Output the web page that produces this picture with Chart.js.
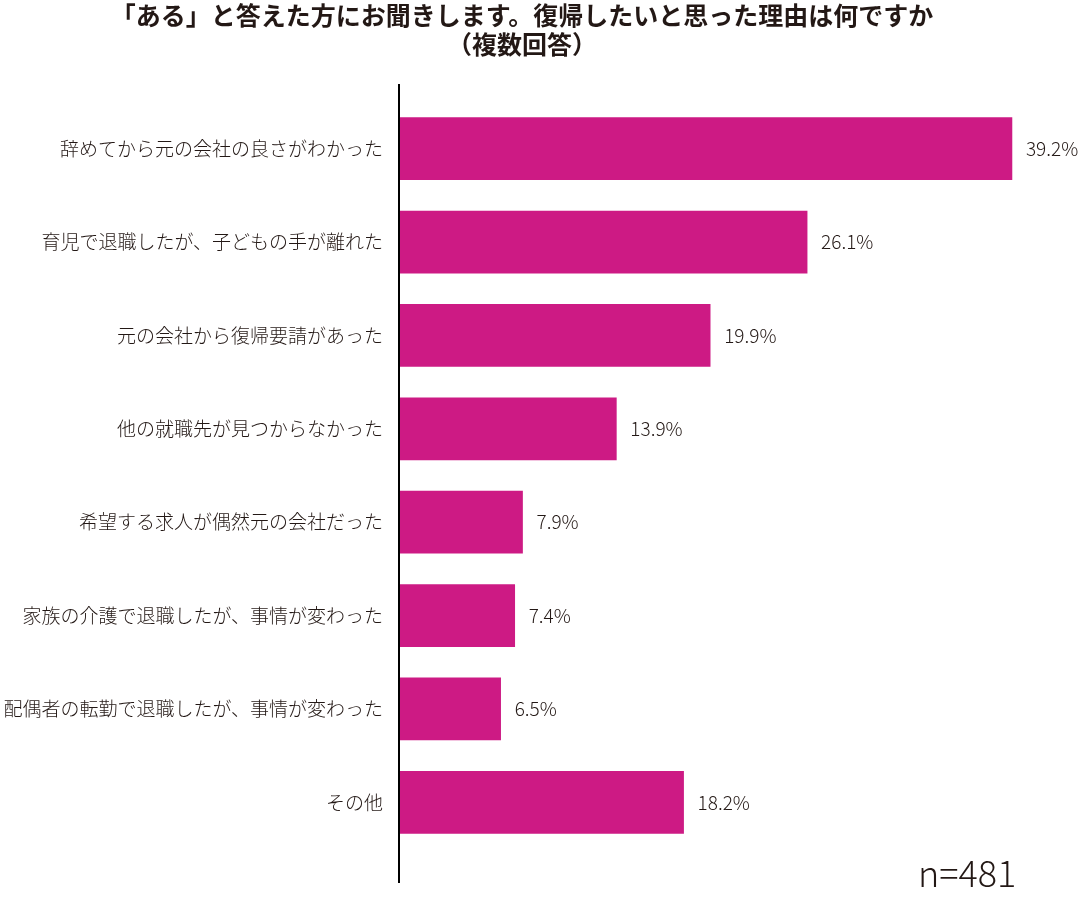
<!DOCTYPE html>
<html><head><meta charset="utf-8">
<script src="https://cdn.jsdelivr.net/npm/chart.js@4/dist/chart.umd.min.js"></script>
<style>html,body{margin:0;padding:0;background:#fff}#wrap{width:1082px;height:899px}</style>
</head><body><div id="wrap"><canvas id="c" width="1082" height="899"></canvas></div>
<script>
const categories = ["辞めてから元の会社の良さがわかった","育児で退職したが、子どもの手が離れた","元の会社から復帰要請があった","他の就職先が見つからなかった","希望する求人が偶然元の会社だった","家族の介護で退職したが、事情が変わった","配偶者の転勤で退職したが、事情が変わった","その他"];
const values = [39.2, 26.1, 19.9, 13.9, 7.9, 7.4, 6.5, 18.2];
const titleLines = ["「ある」と答えた方にお聞きします。復帰したいと思った理由は何ですか","（複数回答）"];
const sampleNote = "n=481";

const JP = "'Noto Sans CJK JP', sans-serif";
const TXT = "#231815";

const extras = {
  id: 'extras',
  afterDatasetsDraw(chart) {
    const ctx = chart.ctx;
    const meta = chart.getDatasetMeta(0);
    ctx.save();
    ctx.font = "300 19px " + JP;
    ctx.fillStyle = TXT;
    ctx.textAlign = 'left';
    ctx.textBaseline = 'middle';
    meta.data.forEach((bar, i) => {
      ctx.fillText(values[i].toFixed(1) + "%", bar.x + 14, bar.y);
    });
    // axis line
    const x0 = chart.scales.x.getPixelForValue(0);
    ctx.strokeStyle = '#000';
    ctx.lineWidth = 2;
    ctx.beginPath();
    ctx.moveTo(x0, 84);
    ctx.lineTo(x0, 883);
    ctx.stroke();
    // n
    ctx.font = "300 36px " + JP;
    ctx.textBaseline = 'alphabetic';
    ctx.fillText(sampleNote, 918, 887);
    ctx.restore();
  }
};

new Chart(document.getElementById('c'), {
  type: 'bar',
  data: {
    labels: categories,
    datasets: [{ data: values, backgroundColor: '#CD1A84', borderWidth: 0, barThickness: 62 }]
  },
  options: {
    indexAxis: 'y',
    responsive: false,
    animation: false,
    layout: { padding: { left: 0, right: 38, top: 0, bottom: 50 } },
    plugins: {
      legend: { display: false },
      tooltip: { enabled: false },
      title: {
        display: true,
        text: titleLines,
        color: TXT,
        font: { family: JP, size: 25, weight: 'bold', lineHeight: 1.16 },
        padding: { top: 1, bottom: 43 }
      }
    },
    scales: {
      x: { display: false, min: 0, max: 41.25 },
      y: {
        grid: { display: false, drawTicks: false },
        border: { display: false },
        ticks: { color: TXT, font: { family: JP, size: 19, weight: 300 }, padding: 16, autoSkip: false },
        afterFit(axis) { axis.width = 399; }
      }
    }
  },
  plugins: [extras]
});
</script></body></html>
